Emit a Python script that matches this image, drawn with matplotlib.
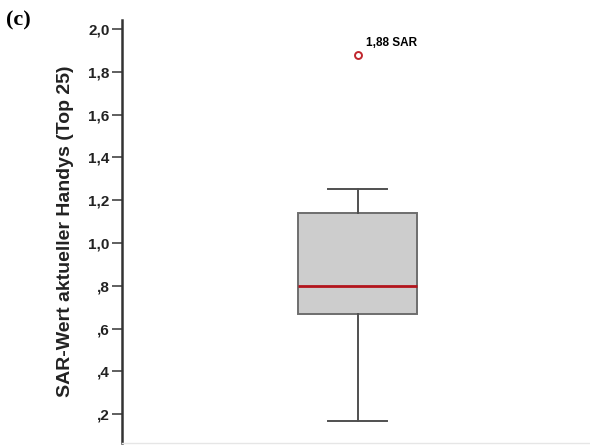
import numpy as np
import matplotlib.pyplot as plt

# box statistics (SAR values, top 25 phones)
box_stats = [{
    'med': 0.80,
    'q1': 0.67,
    'q3': 1.14,
    'whislo': 0.17,
    'whishi': 1.25,
    'fliers': [1.88],
}]
yticks = [0.2, 0.4, 0.6, 0.8, 1.0, 1.2, 1.4, 1.6, 1.8, 2.0]
ytick_labels = [',2', ',4', ',6', ',8', '1,0', '1,2', '1,4', '1,6', '1,8', '2,0']
outlier_label = '1,88 SAR'

plt.rcParams['font.family'] = ['Liberation Sans', 'DejaVu Sans']

fig = plt.figure(figsize=(5.9, 4.46), dpi=100)
ax = fig.add_axes([122 / 590, 3 / 446, 468 / 590, 423 / 446])

ax.bxp(box_stats, positions=[0.504], widths=0.254, capwidths=0.126,
       patch_artist=True, showfliers=True,
       boxprops=dict(facecolor='#cdcdcd', edgecolor='#6e6e6e', linewidth=1.4),
       medianprops=dict(color='#b3141c', linewidth=2),
       whiskerprops=dict(color='#505050', linewidth=1.4),
       capprops=dict(color='#505050', linewidth=1.4),
       flierprops=dict(marker='o', markersize=5, markerfacecolor='white',
                       markeredgecolor='#c0262d', markeredgewidth=1.4))

ax.text(0.504 + 0.018, 1.88 + 0.025, outlier_label, fontsize=8.5,
        fontweight='bold', ha='left', va='bottom')

ax.set_xlim(0, 1)
ax.set_ylim(0.065, 2.042)
ax.set_yticks(yticks)
ax.set_yticklabels(ytick_labels, fontweight='bold', fontsize=11, color='#222222')
ax.tick_params(axis='y', length=7, width=1.2, color='#444444', pad=2)
ax.set_xticks([])

for side in ['top', 'right']:
    ax.spines[side].set_visible(False)
ax.spines['left'].set_linewidth(1.8)
ax.spines['left'].set_color('#333333')
ax.spines['bottom'].set_color('#e6e6e6')
ax.spines['bottom'].set_linewidth(1)

ax.set_ylabel('SAR-Wert aktueller Handys (Top 25)', fontsize=14,
              fontweight='bold', labelpad=10, color='#222222')

fig.text(6 / 590, 1 - 10 / 446, '(c)', fontsize=16, fontweight='bold',
         family='Liberation Serif', ha='left', va='top')

fig.savefig('out.png', dpi=100, facecolor='white')
